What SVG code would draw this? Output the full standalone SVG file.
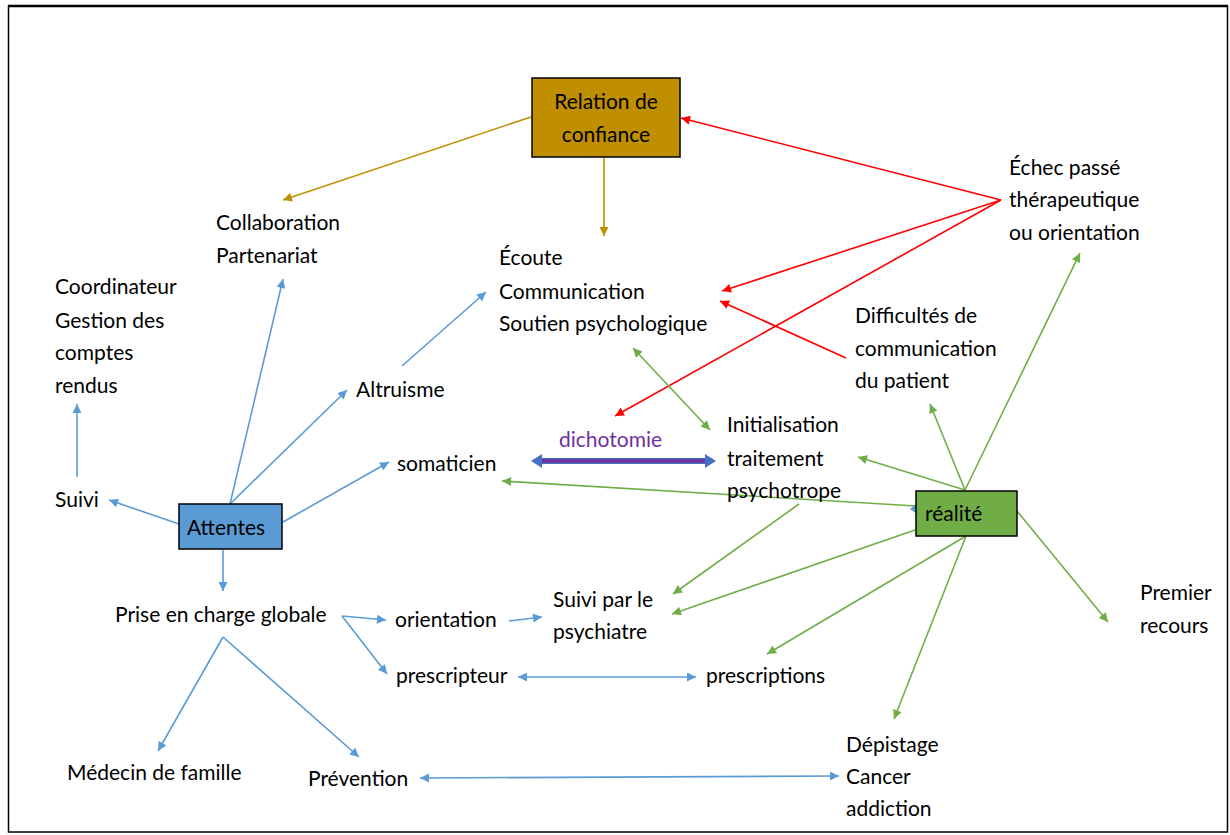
<svg xmlns="http://www.w3.org/2000/svg" width="1230" height="835" viewBox="0 0 1230 835">
<style>
text{font-family:Lato,"Open Sans","Liberation Sans",sans-serif;font-size:21px;fill:#000}
.b{stroke:#5B9BD5;stroke-width:1.6;fill:none}
.g{stroke:#70AD47;stroke-width:1.6;fill:none}
.r{stroke:#FF0000;stroke-width:1.6;fill:none}
.o{stroke:#BF9000;stroke-width:1.6;fill:none}
</style>
<defs>
<marker id="mb" viewBox="0 0 10 10" refX="10" refY="5" markerWidth="10" markerHeight="9" markerUnits="userSpaceOnUse" orient="auto-start-reverse"><path d="M0,0 L10,5 L0,10 Z" fill="#5B9BD5"/></marker>
<marker id="mg" viewBox="0 0 10 10" refX="10" refY="5" markerWidth="10" markerHeight="9" markerUnits="userSpaceOnUse" orient="auto-start-reverse"><path d="M0,0 L10,5 L0,10 Z" fill="#70AD47"/></marker>
<marker id="mr" viewBox="0 0 10 10" refX="10" refY="5" markerWidth="10" markerHeight="9" markerUnits="userSpaceOnUse" orient="auto-start-reverse"><path d="M0,0 L10,5 L0,10 Z" fill="#FF0000"/></marker>
<marker id="mo" viewBox="0 0 10 10" refX="10" refY="5" markerWidth="10" markerHeight="9" markerUnits="userSpaceOnUse" orient="auto-start-reverse"><path d="M0,0 L10,5 L0,10 Z" fill="#BF9000"/></marker>
</defs>
<rect x="0" y="0" width="1230" height="835" fill="#fff"/>
<rect x="8.5" y="6" width="1219" height="826" fill="none" stroke="#000" stroke-width="1.5"/>
<line x1="8" y1="6" x2="1228" y2="6" stroke="#000" stroke-width="2.5"/>

<g id="connectors">
<line class="o" x1="531" y1="117" x2="283" y2="200" marker-end="url(#mo)"/>
<line class="o" x1="604" y1="158" x2="604" y2="236" marker-end="url(#mo)"/>
<line class="r" x1="1001" y1="200" x2="681" y2="118" marker-end="url(#mr)"/>
<line class="r" x1="1001" y1="200" x2="722" y2="291" marker-end="url(#mr)"/>
<line class="r" x1="1001" y1="200" x2="615" y2="416" marker-end="url(#mr)"/>
<line class="r" x1="846" y1="358" x2="720" y2="301" marker-end="url(#mr)"/>
<line class="g" x1="633" y1="348" x2="710" y2="430" marker-start="url(#mg)" marker-end="url(#mg)"/>
<line class="g" x1="965" y1="490" x2="1080" y2="253" marker-end="url(#mg)"/>
<line class="g" x1="965" y1="490" x2="930" y2="404" marker-end="url(#mg)"/>
<line class="g" x1="965" y1="490" x2="858" y2="457" marker-end="url(#mg)"/>
<line class="g" x1="916" y1="506" x2="502" y2="481" marker-end="url(#mg)"/>
<line class="g" x1="799" y1="504" x2="673" y2="594" marker-end="url(#mg)"/>
<line class="g" x1="915" y1="530" x2="672" y2="614" marker-end="url(#mg)"/>
<line class="g" x1="966" y1="536" x2="767" y2="654" marker-end="url(#mg)"/>
<line class="g" x1="966" y1="536" x2="894" y2="719" marker-end="url(#mg)"/>
<line class="g" x1="1017" y1="511" x2="1108" y2="622" marker-end="url(#mg)"/>
<path d="M917,503 L910,509 L917,514 Z" fill="#5B9BD5"/>
<line class="b" x1="230" y1="504" x2="283" y2="279" marker-end="url(#mb)"/>
<line class="b" x1="230" y1="504" x2="347" y2="390" marker-end="url(#mb)"/>
<line class="b" x1="283" y1="522" x2="389" y2="462" marker-end="url(#mb)"/>
<line class="b" x1="179" y1="524" x2="109" y2="500" marker-end="url(#mb)"/>
<line class="b" x1="77" y1="477" x2="77" y2="404" marker-end="url(#mb)"/>
<line class="b" x1="223" y1="550" x2="223" y2="591" marker-end="url(#mb)"/>
<line class="b" x1="402" y1="366" x2="486" y2="292" marker-end="url(#mb)"/>
<line class="b" x1="342" y1="616" x2="386" y2="620" marker-end="url(#mb)"/>
<line class="b" x1="342" y1="616" x2="387" y2="674" marker-end="url(#mb)"/>
<line class="b" x1="223" y1="637" x2="158" y2="751" marker-end="url(#mb)"/>
<line class="b" x1="223" y1="637" x2="359" y2="757" marker-end="url(#mb)"/>
<line class="b" x1="509" y1="621" x2="542" y2="617" marker-end="url(#mb)"/>
<line class="b" x1="518" y1="677" x2="696" y2="677" marker-start="url(#mb)" marker-end="url(#mb)"/>
<line class="b" x1="420" y1="778" x2="839" y2="776" marker-start="url(#mb)" marker-end="url(#mb)"/>
<g id="dichotomy-arrow">
<line x1="538" y1="461" x2="709" y2="461" stroke="#4472C4" stroke-width="6"/>
<line x1="540" y1="461" x2="707" y2="461" stroke="#7030A0" stroke-width="3.5"/>
<path d="M531,461 L542,454 L542,468 Z" fill="#4472C4"/>
<path d="M716,461 L705,454 L705,468 Z" fill="#4472C4"/>
</g>
</g>

<g id="relation">
<rect x="532" y="78" width="148" height="79" fill="#BF8F00" stroke="#000" stroke-width="1.5"/>
<text x="606" y="109" text-anchor="middle">Relation de</text>
<text x="606" y="142" text-anchor="middle">confiance</text>
</g>
<g id="attentes">
<rect x="179" y="504" width="103" height="45" fill="#5B9BD5" stroke="#000" stroke-width="1.5"/>
<text x="187" y="535">Attentes</text>
</g>
<g id="realite">
<rect x="916" y="491" width="101" height="45" fill="#70AD47" stroke="#000" stroke-width="1.5"/>
<text x="925" y="521">réalité</text>
</g>
<g id="collaboration"><text x="216" y="230">Collaboration</text><text x="216" y="263">Partenariat</text></g>
<g id="coordinateur"><text x="55" y="294">Coordinateur</text><text x="55" y="328">Gestion des</text><text x="55" y="360">comptes</text><text x="55" y="393">rendus</text></g>
<g id="ecoute"><text x="499" y="265">Écoute</text><text x="499" y="299">Communication</text><text x="499" y="331">Soutien psychologique</text></g>
<g id="echec"><text x="1009" y="175">Échec passé</text><text x="1009" y="207">thérapeutique</text><text x="1009" y="240">ou orientation</text></g>
<g id="difficultes"><text x="855" y="323">Difficultés de</text><text x="855" y="356">communication</text><text x="855" y="388">du patient</text></g>
<g id="altruisme"><text x="356" y="397">Altruisme</text></g>
<g id="somaticien"><text x="397" y="471">somaticien</text></g>
<g id="dichotomie"><text x="559" y="447" style="fill:#7030A0">dichotomie</text></g>
<g id="initialisation"><text x="727" y="432">Initialisation</text><text x="727" y="466">traitement</text><text x="727" y="498">psychotrope</text></g>
<g id="suivi"><text x="55" y="507">Suivi</text></g>
<g id="prise"><text x="115" y="622">Prise en charge globale</text></g>
<g id="orientation"><text x="395" y="627">orientation</text></g>
<g id="psychiatre"><text x="553" y="607">Suivi par le</text><text x="553" y="639">psychiatre</text></g>
<g id="prescripteur"><text x="396" y="683">prescripteur</text></g>
<g id="prescriptions"><text x="706" y="683">prescriptions</text></g>
<g id="premier"><text x="1140" y="600">Premier</text><text x="1140" y="633">recours</text></g>
<g id="medecin"><text x="67" y="780">Médecin de famille</text></g>
<g id="prevention"><text x="308" y="786">Prévention</text></g>
<g id="depistage"><text x="846" y="752">Dépistage</text><text x="846" y="784">Cancer</text><text x="846" y="816">addiction</text></g>
</svg>
